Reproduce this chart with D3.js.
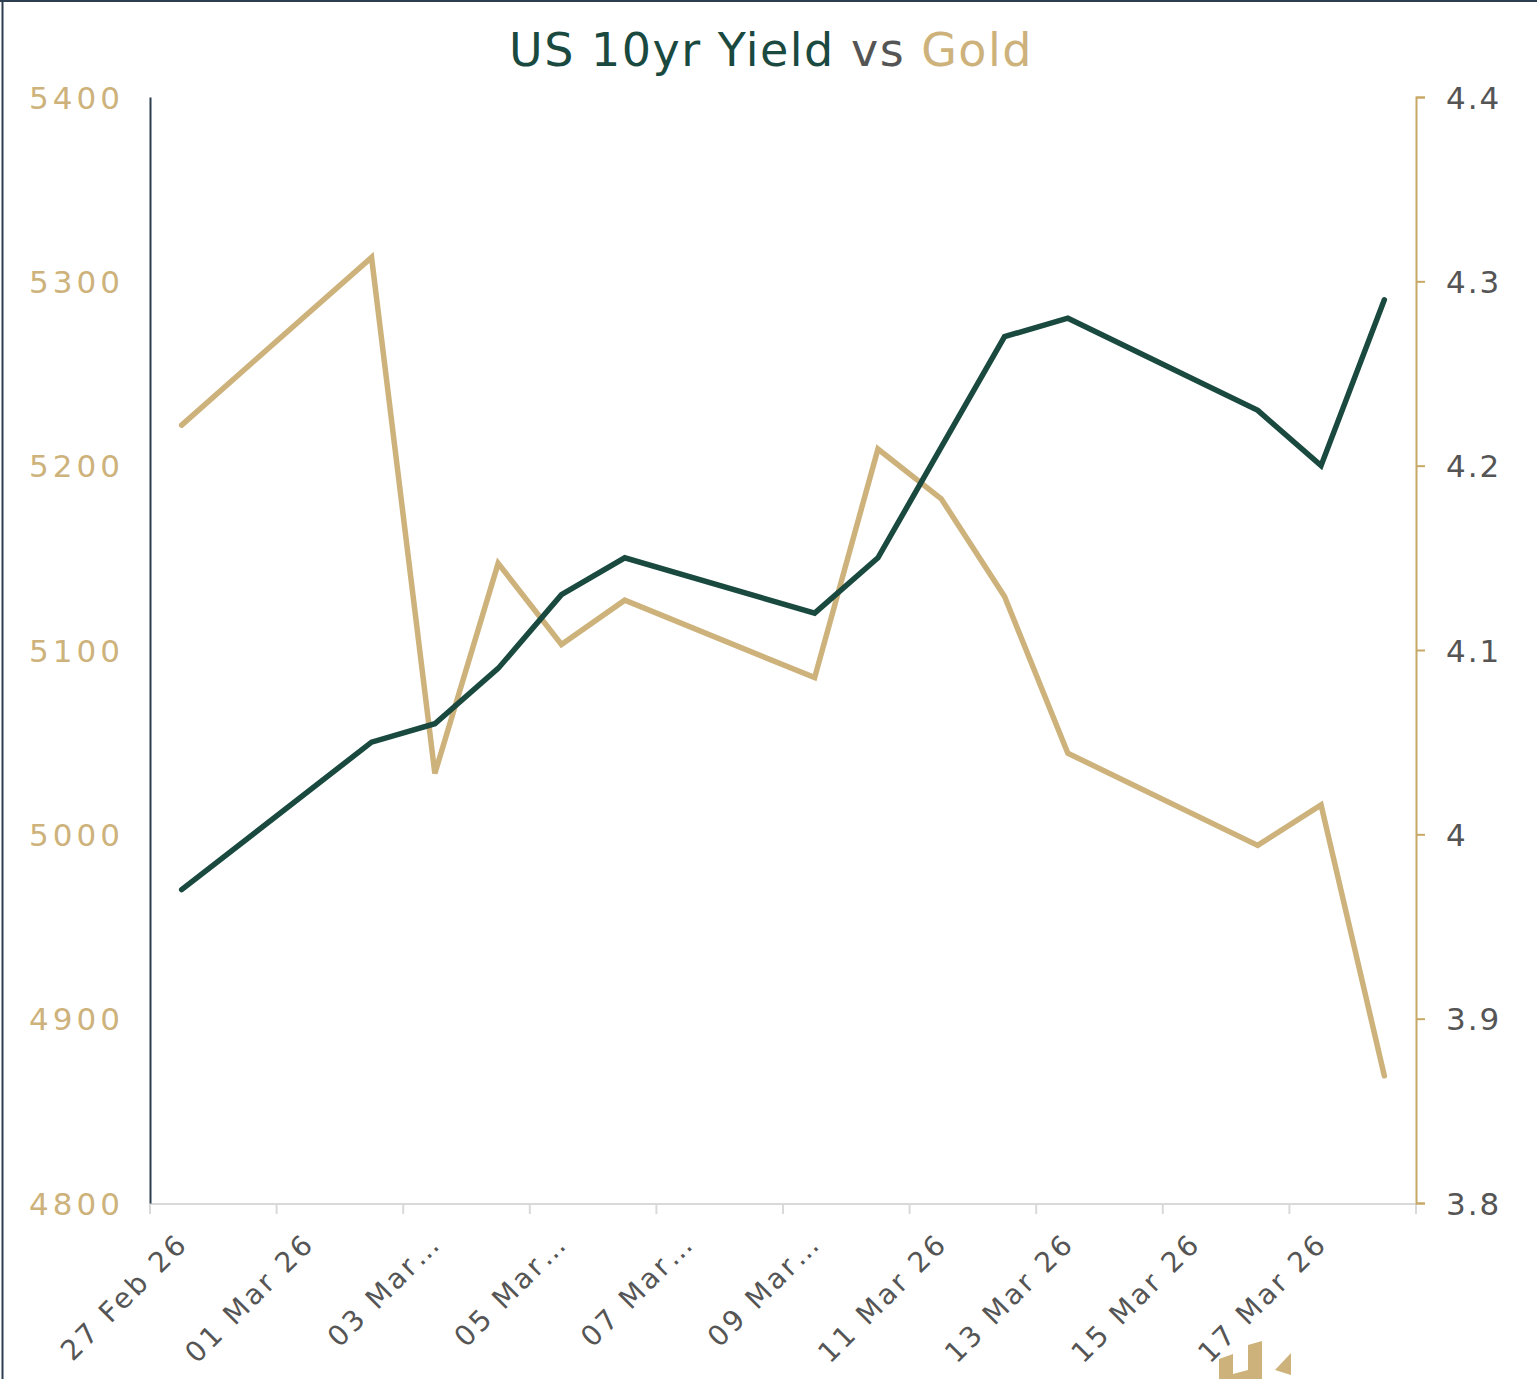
<!DOCTYPE html>
<html>
<head>
<meta charset="utf-8">
<script src="https://cdn.jsdelivr.net/npm/d3@7"></script>
<style>
  body { margin: 0; background: #fff; }
  svg { display: block; font-family: "DejaVu Sans", sans-serif; }
</style>
</head>
<body>
<div id="chart"></div>
<script>
// categories: every calendar day on the axis
var days = ["27 Feb", "28 Feb", "01 Mar", "02 Mar", "03 Mar", "04 Mar", "05 Mar",
  "06 Mar", "07 Mar", "08 Mar", "09 Mar", "10 Mar", "11 Mar", "12 Mar", "13 Mar",
  "14 Mar", "15 Mar", "16 Mar", "17 Mar", "18 Mar"];

// trading days that carry values
var tradingDays = ["27 Feb", "02 Mar", "03 Mar", "04 Mar", "05 Mar", "06 Mar",
  "09 Mar", "10 Mar", "11 Mar", "12 Mar", "13 Mar", "16 Mar", "17 Mar", "18 Mar"];
var goldValues = [5222, 5313, 5033, 5147, 5103, 5127, 5085, 5209, 5182, 5129, 5044, 4994, 5016, 4869];
var yieldValues = [3.97, 4.05, 4.06, 4.09, 4.13, 4.15, 4.12, 4.15, 4.21, 4.27, 4.28, 4.23, 4.20, 4.29];

// tick labels, one every other day
var xTickLabels = ["27 Feb 26", "01 Mar 26", "03 Mar\u2026", "05 Mar\u2026", "07 Mar\u2026",
  "09 Mar\u2026", "11 Mar 26", "13 Mar 26", "15 Mar 26", "17 Mar 26"];
var goldTicks = [4800, 4900, 5000, 5100, 5200, 5300, 5400];
var yieldTicks = [3.8, 3.9, 4.0, 4.1, 4.2, 4.3, 4.4];

var W = 1537, H = 1379;
var mLeft = 150, mRight = 1416, mTop = 97, mBottom = 1203;
var green = "#1a4a3f", tan = "#cdb27b", grey = "#555555";

var svg = d3.select("#chart").append("svg")
  .attr("width", W).attr("height", H);

// frame edges
svg.append("line").attr("x1", 0).attr("x2", W).attr("y1", 1).attr("y2", 1)
  .attr("stroke", "#2c3e50").attr("stroke-width", 2);
svg.append("line").attr("x1", 2.5).attr("x2", 2.5).attr("y1", 0).attr("y2", H)
  .attr("stroke", "#2c3e50").attr("stroke-width", 2);

var x = d3.scaleBand().domain(days).range([mLeft, mRight]).padding(0);
var yGold = d3.scaleLinear().domain([4800, 5400]).range([mBottom, mTop]);
var yYield = d3.scaleLinear().domain([3.8, 4.4]).range([mBottom, mTop]);

// title
var title = svg.append("text")
  .attr("x", 771).attr("y", 66)
  .attr("text-anchor", "middle")
  .style("font-size", "46px")
  .style("letter-spacing", "1.5px");
title.append("tspan").attr("fill", green).text("US 10yr Yield ");
title.append("tspan").attr("fill", grey).text("vs ");
title.append("tspan").attr("fill", tan).text("Gold");

// x axis
var xAxis = svg.append("g").attr("class", "x-axis");
xAxis.append("line")
  .attr("x1", mLeft).attr("x2", mRight)
  .attr("y1", mBottom + 1).attr("y2", mBottom + 1)
  .attr("stroke", "#d9d9d9").attr("stroke-width", 2);

var tickDays = days.filter(function(d, i){ return i % 2 === 0; });
var tickXs = tickDays.map(function(d){ return x(d); }).concat([mRight]);
xAxis.selectAll("line.tick").data(tickXs).enter()
  .append("line").attr("class", "tick")
  .attr("x1", function(d){ return d; }).attr("x2", function(d){ return d; })
  .attr("y1", mBottom).attr("y2", mBottom + 11)
  .attr("stroke", "#d9d9d9").attr("stroke-width", 2);

xAxis.selectAll("text").data(tickDays).enter()
  .append("text")
  .attr("transform", function(d){
    var cx = x(d) + x.bandwidth() / 2 + 8;
    return "translate(" + cx + "," + (mBottom + 42) + ") rotate(-45)";
  })
  .attr("text-anchor", "end")
  .attr("fill", grey)
  .style("font-size", "28px")
  .style("letter-spacing", "3px")
  .text(function(d, i){ return xTickLabels[i]; });

// left axis (gold)
var axL = svg.append("g")
  .attr("transform", "translate(" + mLeft + ",0)")
  .call(d3.axisLeft(yGold).tickValues(goldTicks).tickSize(0).tickPadding(26)
    .tickFormat(d3.format("d")));
axL.select(".domain").attr("stroke", "#2c3e50").attr("stroke-width", 2);
axL.selectAll("text").attr("fill", tan).attr("dy", "0.36em")
  .style("font-size", "31px").style("letter-spacing", "4px")
  .style("font-family", "DejaVu Sans, sans-serif");

// right axis (yield)
var axR = svg.append("g")
  .attr("transform", "translate(" + mRight + ",0)")
  .call(d3.axisRight(yYield).tickValues(yieldTicks).tickSize(9).tickPadding(21)
    .tickFormat(function(d){ return String(+d.toFixed(1)); }));
axR.select(".domain").attr("stroke", "#c8a867").attr("stroke-width", 2);
axR.selectAll(".tick line").attr("stroke", "#c8a867").attr("stroke-width", 2);
axR.selectAll("text").attr("fill", grey).attr("dy", "0.36em")
  .style("font-size", "31px").style("letter-spacing", "2px")
  .style("font-family", "DejaVu Sans, sans-serif");

// lines
var goldLine = d3.line()
  .x(function(d, i){ return x(tradingDays[i]) + x.bandwidth() / 2; })
  .y(function(d){ return yGold(d); });
var yieldLine = d3.line()
  .x(function(d, i){ return x(tradingDays[i]) + x.bandwidth() / 2; })
  .y(function(d){ return yYield(d); });

svg.append("path").datum(goldValues)
  .attr("d", goldLine)
  .attr("fill", "none").attr("stroke", tan).attr("stroke-width", 5.5)
  .attr("stroke-linecap", "round");
svg.append("path").datum(yieldValues)
  .attr("d", yieldLine)
  .attr("fill", "none").attr("stroke", green).attr("stroke-width", 5.5)
  .attr("stroke-linecap", "round");

// logo fragment at the bottom edge
var logo = svg.append("g").attr("fill", "#cdb27b");
logo.append("path").attr("d", "M1219,1359 L1233,1354 L1233,1374 L1248,1370 L1248,1345 L1262,1341 L1262,1379 L1219,1379 Z");
logo.append("path").attr("d", "M1275,1370 L1291,1353 L1291,1375 Z");
</script>
</body>
</html>
